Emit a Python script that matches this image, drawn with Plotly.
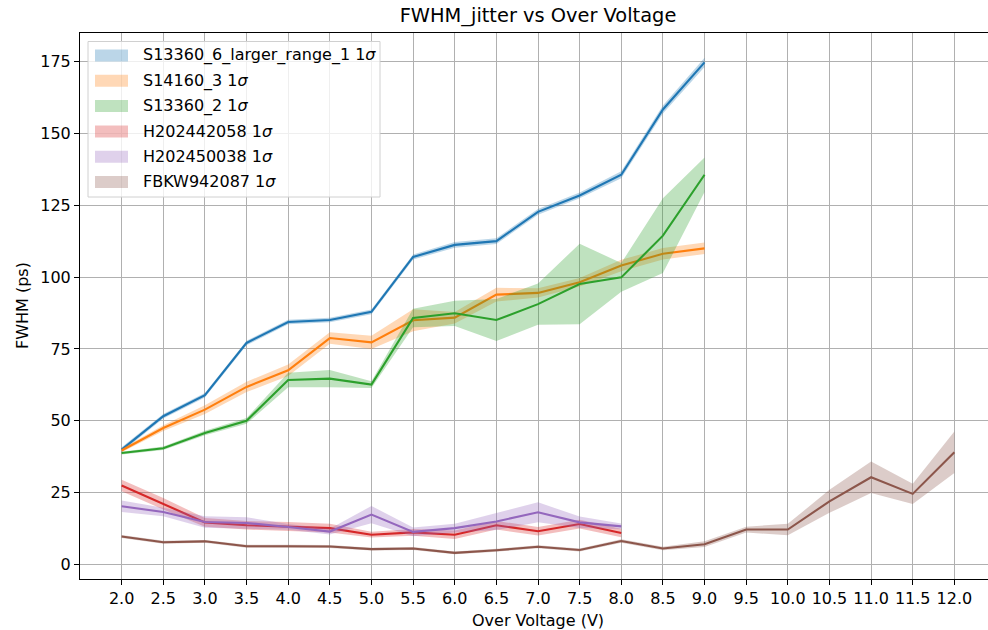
import plotly.graph_objects as go

# Over-voltage points (V)
ov_short = [2.0, 2.5, 3.0, 3.5, 4.0, 4.5, 5.0, 5.5, 6.0, 6.5, 7.0, 7.5, 8.0, 8.5, 9.0]
ov_mid = [2.0, 2.5, 3.0, 3.5, 4.0, 4.5, 5.0, 5.5, 6.0, 6.5, 7.0, 7.5, 8.0]
ov_long = [2.0, 2.5, 3.0, 3.5, 4.0, 4.5, 5.0, 5.5, 6.0, 6.5, 7.0, 7.5, 8.0, 8.5, 9.0,
           9.5, 10.0, 10.5, 11.0, 11.5, 12.0]

# FWHM of the jitter (ps) and its 1-sigma spread per sensor
s13360_6_fwhm = [40.0, 51.6, 58.9, 77.1, 84.4, 85.1, 87.9, 107.0, 111.2, 112.5, 122.7, 128.4,
                 135.6, 158.3, 174.7]
s13360_6_sig = [0.8, 0.8, 0.8, 0.8, 0.8, 0.8, 0.8, 0.9, 1.0, 1.0, 1.0, 1.0, 1.2, 1.4, 1.6]

s14160_3_fwhm = [39.7, 47.5, 53.9, 61.8, 67.6, 78.8, 77.3, 85.0, 85.9, 93.9, 94.5, 98.2,
                 104.0, 108.1, 110.0]
s14160_3_sig = [0.6, 1.0, 1.5, 1.8, 2.0, 2.0, 2.3, 3.8, 2.0, 2.4, 1.6, 1.5, 2.0, 2.0, 2.0]

s13360_2_fwhm = [38.8, 40.5, 45.8, 50.0, 64.2, 64.7, 62.6, 85.8, 87.4, 85.1, 90.6, 97.6,
                 99.9, 114.4, 135.6]
s13360_2_sig = [0.5, 0.6, 0.8, 1.0, 2.5, 3.0, 1.2, 3.2, 4.4, 7.3, 7.2, 14.0, 5.0, 13.0, 6.0]

h202442058_fwhm = [27.5, 21.2, 14.7, 13.7, 13.3, 12.7, 10.4, 11.2, 10.4, 13.7, 11.6, 14.1, 11.0]
h202442058_sig = [2.0, 2.0, 1.5, 1.5, 1.5, 1.5, 1.0, 1.2, 1.5, 1.5, 1.5, 1.5, 1.5]

h202450038_fwhm = [20.3, 18.3, 14.8, 14.5, 13.1, 11.5, 17.4, 11.4, 12.7, 15.0, 18.2, 14.7, 13.3]
h202450038_sig = [2.0, 1.5, 2.0, 2.0, 1.0, 1.0, 3.0, 1.5, 1.5, 3.0, 3.5, 2.0, 1.0]

fbkw942087_fwhm = [9.8, 7.8, 8.1, 6.4, 6.4, 6.3, 5.4, 5.6, 4.1, 5.0, 6.2, 5.1, 8.2, 5.6, 7.1,
                   12.2, 12.2, 22.0, 30.4, 24.6, 39.1]
fbkw942087_sig = [0.5, 0.5, 0.5, 0.5, 0.5, 0.5, 0.5, 0.5, 0.5, 0.5, 0.5, 0.5, 0.6, 0.6, 1.0,
                  1.0, 2.0, 4.0, 5.5, 3.5, 7.2]

series = [
    ("S13360_6_larger_range_1", ov_short, s13360_6_fwhm, s13360_6_sig, (31, 119, 180)),
    ("S14160_3", ov_short, s14160_3_fwhm, s14160_3_sig, (255, 127, 14)),
    ("S13360_2", ov_short, s13360_2_fwhm, s13360_2_sig, (44, 160, 44)),
    ("H202442058", ov_mid, h202442058_fwhm, h202442058_sig, (214, 39, 40)),
    ("H202450038", ov_mid, h202450038_fwhm, h202450038_sig, (148, 103, 189)),
    ("FBKW942087", ov_long, fbkw942087_fwhm, fbkw942087_sig, (140, 86, 75)),
]

x_ticks = [2.0 + 0.5 * i for i in range(21)]
y_ticks = [0, 25, 50, 75, 100, 125, 150, 175]

FONT = "DejaVu Sans, Verdana, sans-serif"

# plot-area geometry in pixels, used to place the hand-drawn legend
W, H = 988, 630
ML, MR, MT, MB = 80, 0, 33, 51
PW, PH = W - ML - MR, H - MT - MB


def px(xp):
    return (xp - ML) / PW


def py(yp):
    return 1 - (yp - MT) / PH


fig = go.Figure()
for name, xs, ys, sig, (r, g, b) in series:
    upper = [y + s for y, s in zip(ys, sig)]
    lower = [y - s for y, s in zip(ys, sig)]
    fig.add_trace(go.Scatter(
        x=list(xs) + list(xs)[::-1],
        y=upper + lower[::-1],
        fill="toself",
        fillcolor=f"rgba({r},{g},{b},0.3)",
        line=dict(width=0),
        mode="lines",
        name=f"{name} 1σ",
        showlegend=False,
        hoverinfo="skip",
    ))
    fig.add_trace(go.Scatter(
        x=xs, y=ys, mode="lines",
        line=dict(color=f"rgb({r},{g},{b})", width=2.1),
        showlegend=False,
        name=name,
    ))

# legend: frame, colour patches and labels
shapes = [dict(type="rect", xref="paper", yref="paper",
               x0=px(88), x1=px(380), y0=py(197), y1=py(41.5),
               fillcolor="rgba(255,255,255,0.8)", line=dict(color="#d0d0d0", width=1),
               layer="above")]
annotations = []
row0, row_step = 55.5, 25.3
for i, (name, _, _, _, (r, g, b)) in enumerate(series):
    yc = row0 + i * row_step
    shapes.append(dict(type="rect", xref="paper", yref="paper",
                       x0=px(95), x1=px(128), y0=py(yc + 6), y1=py(yc - 6),
                       fillcolor=f"rgba({r},{g},{b},0.3)", line=dict(width=0),
                       layer="above"))
    annotations.append(dict(text=f"{name} 1<i>σ</i>", xref="paper", yref="paper",
                            x=px(141), y=py(yc), xanchor="left", yanchor="middle",
                            showarrow=False, font=dict(size=16, family=FONT, color="black")))

annotations.append(dict(text="Over Voltage (V)", xref="paper", yref="paper",
                        x=px(538), y=py(620), xanchor="center", yanchor="middle",
                        showarrow=False, font=dict(size=16, family=FONT)))
annotations.append(dict(text="FWHM (ps)", xref="paper", yref="paper",
                        x=px(22), y=0.5, xanchor="center", yanchor="middle",
                        textangle=-90, showarrow=False, font=dict(size=16, family=FONT)))

fig.update_layout(
    width=W, height=H,
    margin=dict(l=ML, r=MR, t=MT, b=MB),
    plot_bgcolor="white", paper_bgcolor="white",
    font=dict(family=FONT, size=16, color="black"),
    title=dict(text="FWHM_jitter vs Over Voltage", x=px(538), xref="paper",
               y=1 - 15 / H, yanchor="middle", xanchor="center",
               font=dict(size=19.4, family=FONT, color="black")),
    showlegend=False,
    shapes=shapes,
    annotations=annotations,
)

fig.update_xaxes(
    range=[1.5, 12.5 - 8 / 83.2],
    tickvals=x_ticks, ticktext=[f"{v:.1f}" for v in x_ticks],
    showgrid=True, gridcolor="#b0b0b0", gridwidth=1.1,
    showline=True, linecolor="black", linewidth=1.1, mirror=True,
    ticks="outside", ticklen=5, tickwidth=1.1, tickcolor="black",
    zeroline=False, tickfont=dict(size=16),
)
fig.update_yaxes(
    range=[-5.0, 184.9],
    tickvals=y_ticks,
    showgrid=True, gridcolor="#b0b0b0", gridwidth=1.1,
    showline=True, linecolor="black", linewidth=1.1, mirror=False,
    ticks="outside", ticklen=5, tickwidth=1.1, tickcolor="black",
    zeroline=False, tickfont=dict(size=16),
)

fig.write_html("out.html")
